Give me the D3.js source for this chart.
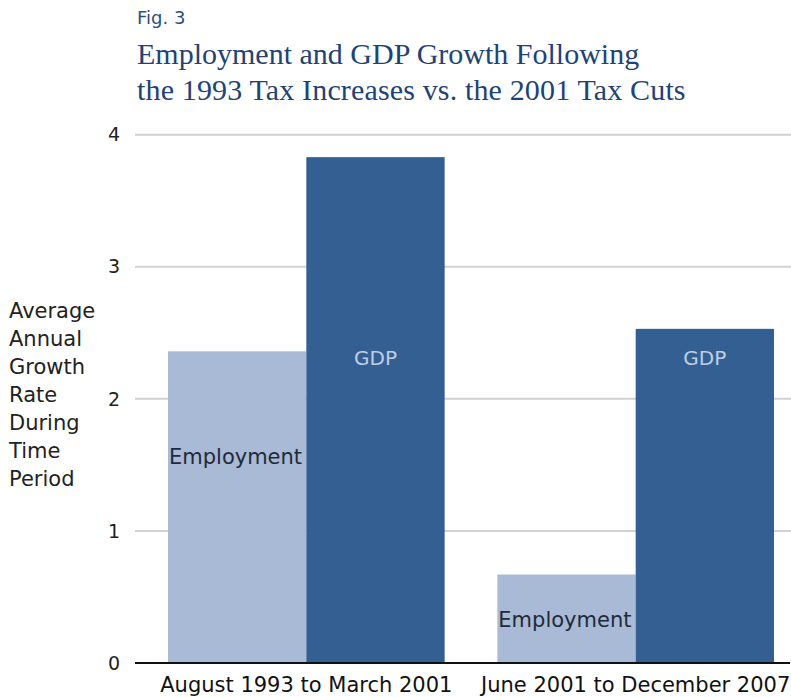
<!DOCTYPE html>
<html>
<head>
<meta charset="utf-8">
<script src="https://cdn.jsdelivr.net/npm/d3@7"></script>
<style>
  body { margin: 0; background: #fff; }
  .sans { font-family: "DejaVu Sans", sans-serif; }
  .serif { font-family: "Liberation Serif", serif; }
</style>
</head>
<body>
<div id="chart"></div>
<script>
const periods = ["August 1993 to March 2001", "June 2001 to December 2007"];
const series = ["Employment", "GDP"];
const employment = [2.36, 0.67];
const gdp = [3.83, 2.53];
const yTicks = [0, 1, 2, 3, 4];
const yTitle = ["Average", "Annual", "Growth", "Rate", "During", "Time", "Period"];

const colors = { Employment: "#a8bad5", GDP: "#345f92" };
const labelColors = { Employment: "#1f2a3a", GDP: "#bfcee4" };

const width = 791, height = 697;

const svg = d3.select("#chart").append("svg")
    .attr("width", width)
    .attr("height", height);

// Titles
svg.append("text")
    .attr("class", "sans")
    .attr("x", 137).attr("y", 24)
    .attr("font-size", 18)
    .attr("fill", "#2b4f7e")
    .text("Fig. 3");

svg.append("text")
    .attr("class", "serif")
    .attr("x", 137).attr("y", 64)
    .attr("font-size", 30)
    .attr("fill", "#1f4374")
    .text("Employment and GDP Growth Following");

svg.append("text")
    .attr("class", "serif")
    .attr("x", 137).attr("y", 100)
    .attr("font-size", 30)
    .attr("fill", "#1f4374")
    .attr("letter-spacing", 0.15)
    .text("the 1993 Tax Increases vs. the 2001 Tax Cuts");

// Scales
const y = d3.scaleLinear().domain([0, 4]).range([663, 134.7]);
const x = d3.scaleBand().domain(periods).range([168, 774]).paddingInner(0.16).paddingOuter(0);
const xs = d3.scaleBand().domain(series).range([0, x.bandwidth()]);

// Gridlines
svg.append("g")
    .selectAll("line")
    .data(yTicks.filter(d => d > 0))
    .join("line")
    .attr("x1", 135).attr("x2", width)
    .attr("y1", d => y(d)).attr("y2", d => y(d))
    .attr("stroke", "#d2d2d2")
    .attr("stroke-width", 2);

// Y tick labels
svg.append("g")
    .selectAll("text")
    .data(yTicks)
    .join("text")
    .attr("class", "sans")
    .attr("x", 114)
    .attr("y", d => y(d))
    .attr("dy", "0.35em")
    .attr("text-anchor", "middle")
    .attr("font-size", 19)
    .attr("fill", "#222")
    .text(d => d);

// Y title
svg.append("text")
    .attr("class", "sans")
    .attr("font-size", 21)
    .attr("fill", "#222")
    .selectAll("tspan")
    .data(yTitle)
    .join("tspan")
    .attr("x", 9)
    .attr("y", (d, i) => 318 + i * 28)
    .text(d => d);

// Bars
const rows = periods.map((p, i) => ({ period: p, Employment: employment[i], GDP: gdp[i] }));

const groups = svg.append("g")
    .selectAll("g")
    .data(rows)
    .join("g")
    .attr("transform", d => `translate(${x(d.period)},0)`);

groups.selectAll("rect")
    .data(d => series.map(s => ({ key: s, value: d[s] })))
    .join("rect")
    .attr("x", d => xs(d.key))
    .attr("width", xs.bandwidth())
    .attr("y", d => y(d.value))
    .attr("height", d => y(0) - y(d.value))
    .attr("fill", d => colors[d.key]);

// In-bar labels
groups.append("text")
    .attr("class", "sans")
    .attr("x", xs("GDP") + xs.bandwidth() / 2)
    .attr("y", 358)
    .attr("dy", "0.35em")
    .attr("text-anchor", "middle")
    .attr("font-size", 20)
    .attr("fill", labelColors.GDP)
    .text("GDP");

groups.append("text")
    .attr("class", "sans")
    .attr("x", xs("Employment") + 1)
    .attr("y", d => y(d.Employment) + (d.Employment > 1 ? 105 : 45))
    .attr("dy", "0.35em")
    .attr("font-size", 21)
    .attr("fill", labelColors.Employment)
    .text("Employment");

// Baseline
svg.append("line")
    .attr("x1", 135).attr("x2", 790)
    .attr("y1", y(0)).attr("y2", y(0))
    .attr("stroke", "#111")
    .attr("stroke-width", 2);

// X axis labels
svg.append("g")
    .selectAll("text")
    .data(periods)
    .join("text")
    .attr("class", "sans")
    .attr("x", d => x(d) + x.bandwidth() / 2)
    .attr("y", 685)
    .attr("dy", "0.35em")
    .attr("text-anchor", "middle")
    .attr("font-size", 21)
    .attr("fill", "#111")
    .text(d => d);
</script>
</body>
</html>
